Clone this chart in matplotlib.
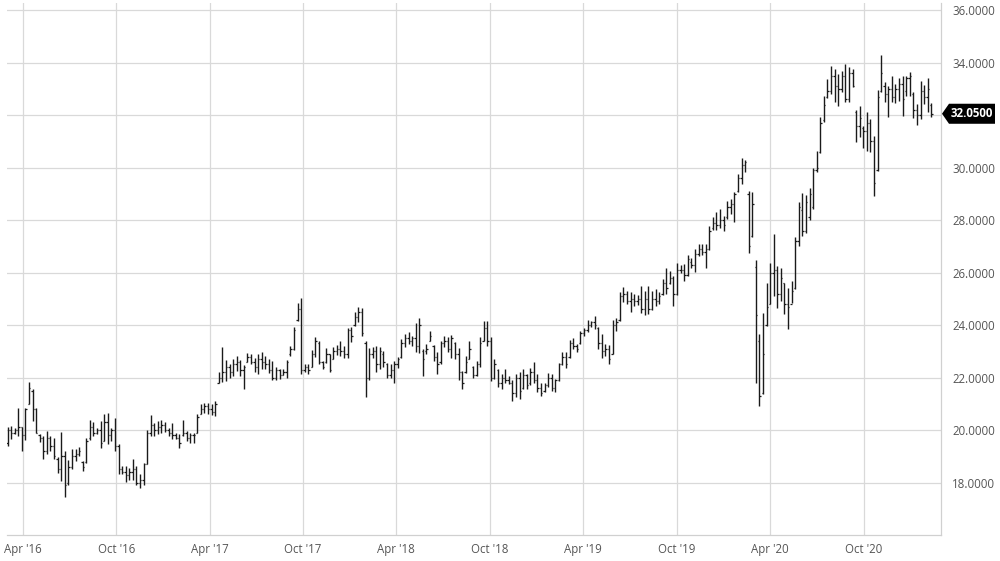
import numpy as np
import pandas as pd
import matplotlib
matplotlib.use("Agg")
import matplotlib.pyplot as plt
import matplotlib.dates as mdates
import matplotlib.transforms as mtransforms
from matplotlib.patches import Polygon

plt.rcParams['font.family'] = ['Open Sans', 'DejaVu Sans']

# weekly OHLC, one bar per week from early March 2016
start_date = "2016-03-02"

highs = [
    20.13, 20.15, 20.09, 20.82, 20.13, 20.85, 21.83, 21.55, 20.85, 19.83,
    19.77, 19.96, 19.77, 19.71, 18.98, 19.92, 19.20, 18.85, 19.26, 19.26,
    19.36, 18.82, 19.71, 20.38, 20.30, 20.09, 20.34, 20.60, 20.64, 20.09,
    20.47, 19.45, 18.62, 18.62, 18.56, 18.88, 18.62, 18.31, 18.75, 20.00,
    20.56, 20.28, 20.34, 20.38, 20.31, 20.09, 20.28, 19.90, 19.83, 20.38,
    19.96, 19.90, 19.87, 20.60, 20.98, 21.02, 21.04, 20.98, 21.11, 22.22,
    23.18, 22.68, 22.51, 22.70, 22.83, 22.68, 22.47, 22.93, 22.89, 22.76,
    22.89, 22.98, 22.83, 22.70, 22.64, 22.42, 22.34, 22.32, 22.68, 23.21,
    23.91, 24.84, 25.02, 22.51, 22.51, 23.06, 23.53, 23.40, 22.64, 23.11,
    22.89, 23.15, 23.24, 23.40, 23.21, 23.87, 23.91, 24.51, 24.68, 24.64,
    23.40, 23.11, 23.15, 23.21, 23.18, 23.02, 22.57, 22.51, 22.64, 22.80,
    23.46, 23.66, 23.75, 23.57, 24.08, 24.25, 23.08, 23.27, 23.78, 23.24,
    22.96, 23.40, 23.59, 23.53, 23.62, 23.34, 23.11, 22.25, 22.83, 23.40,
    22.45, 22.64, 23.53, 24.17, 24.17, 23.53, 22.70, 22.32, 22.13, 22.34,
    22.06, 21.91, 22.13, 22.22, 22.32, 22.13, 22.38, 22.60, 22.13, 21.81,
    21.78, 22.19, 22.13, 21.94, 22.55, 22.96, 22.98, 23.44, 23.49, 23.27,
    23.78, 23.87, 24.20, 24.17, 24.36, 23.91, 23.66, 23.27, 23.24, 24.20,
    24.25, 25.25, 25.44, 25.31, 25.25, 25.18, 25.15, 25.47, 25.30, 25.49,
    25.30, 25.39, 25.24, 25.75, 26.19, 26.06, 25.87, 26.36, 26.28, 26.32,
    26.66, 26.57, 26.89, 27.08, 27.08, 27.08, 27.76, 28.10, 28.32, 28.44,
    28.16, 28.74, 28.80, 29.08, 29.75, 30.35, 30.30, 29.12, 29.05, 26.48,
    23.65, 24.47, 25.62, 26.36, 27.46, 26.25, 26.19, 25.62, 25.43, 25.68,
    27.34, 28.67, 29.02, 28.94, 29.24, 30.00, 30.64, 31.91, 32.71, 33.38,
    33.86, 33.76, 33.57, 33.69, 33.95, 33.82, 33.76, 32.20, 32.36, 31.59,
    32.10, 31.85, 31.21, 32.97, 34.29, 33.27, 33.10, 33.48, 33.18, 33.40,
    33.50, 33.50, 33.66, 32.89, 32.42, 33.31, 33.15, 33.40, 32.46,
]

lows = [
    19.41, 19.64, 19.83, 19.77, 19.20, 19.62, 20.98, 20.34, 19.87, 19.54,
    18.90, 19.07, 19.20, 18.88, 18.37, 18.05, 17.45, 17.92, 18.50, 18.82,
    19.00, 18.43, 18.75, 19.62, 19.77, 19.83, 19.32, 19.58, 19.45, 19.58,
    19.20, 18.31, 18.31, 18.01, 18.11, 18.11, 17.92, 17.80, 17.92, 18.69,
    19.77, 19.77, 19.83, 19.87, 19.92, 19.77, 19.67, 19.64, 19.32, 19.77,
    19.58, 19.52, 19.52, 19.87, 20.60, 20.64, 20.60, 20.56, 20.53, 21.78,
    21.83, 21.87, 22.00, 22.06, 22.25, 22.04, 21.58, 22.60, 22.51, 22.22,
    22.13, 22.34, 22.32, 22.19, 21.91, 21.91, 21.96, 22.09, 22.00, 22.83,
    23.06, 24.17, 22.13, 22.22, 22.13, 22.40, 22.80, 22.51, 22.32, 22.55,
    22.22, 22.70, 22.85, 22.83, 22.76, 22.76, 23.36, 23.95, 24.13, 23.57,
    21.24, 21.91, 22.76, 22.22, 22.34, 22.42, 22.00, 22.00, 21.78, 22.38,
    22.76, 23.15, 23.27, 23.21, 22.96, 22.93, 22.04, 22.89, 23.40, 22.64,
    22.13, 22.51, 23.18, 22.96, 22.76, 22.70, 21.91, 21.55, 22.19, 22.70,
    22.00, 22.06, 22.42, 23.40, 23.21, 21.87, 21.94, 21.62, 21.55, 21.81,
    21.75, 21.11, 21.24, 21.20, 21.55, 21.55, 21.71, 21.81, 21.45, 21.30,
    21.45, 21.62, 21.49, 21.45, 21.87, 22.47, 22.38, 22.76, 23.08, 22.96,
    23.27, 23.59, 23.72, 23.91, 23.85, 23.08, 22.73, 22.83, 22.51, 22.89,
    23.78, 24.17, 24.87, 24.80, 24.48, 24.74, 24.76, 24.47, 24.37, 24.41,
    24.58, 24.73, 24.79, 25.14, 25.17, 25.55, 24.73, 25.14, 25.97, 25.68,
    25.85, 26.19, 26.03, 26.64, 26.66, 26.19, 26.87, 27.63, 27.63, 27.68,
    27.59, 28.04, 28.23, 27.93, 29.08, 29.37, 29.82, 26.74, 27.37, 21.80,
    20.91, 21.36, 23.96, 24.79, 25.11, 24.63, 24.92, 24.41, 23.84, 24.83,
    25.36, 27.02, 27.41, 27.52, 28.00, 28.43, 29.83, 30.57, 31.75, 32.64,
    32.80, 32.48, 32.33, 32.87, 32.51, 32.51, 33.06, 30.96, 31.15, 30.76,
    30.64, 30.60, 28.92, 29.87, 32.87, 32.51, 31.91, 32.48, 32.46, 32.55,
    31.97, 32.74, 32.71, 31.87, 31.62, 31.85, 32.42, 32.10, 31.91,
]

opens = [
    19.5, 20.0, 19.9, 20.0, 20.1, 19.8, 21.0, 21.5, 20.8, 19.8,
    19.7, 19.2, 19.7, 19.4, 18.9, 18.5, 19.0, 18.0, 18.6, 19.0,
    19.1, 18.8, 18.8, 19.7, 20.1, 19.9, 20.0, 19.6, 20.3, 19.8,
    20.0, 19.4, 18.5, 18.4, 18.3, 18.4, 18.5, 18.0, 18.1, 18.7,
    19.9, 20.2, 20.0, 20.1, 20.2, 20.0, 19.9, 19.8, 19.7, 19.8,
    19.9, 19.7, 19.8, 19.9, 20.6, 20.8, 20.9, 20.8, 20.7, 21.8,
    22.0, 22.2, 22.4, 22.2, 22.5, 22.6, 22.3, 22.6, 22.8, 22.6,
    22.4, 22.7, 22.6, 22.5, 22.3, 22.0, 22.3, 22.1, 22.2, 22.9,
    23.1, 24.2, 24.6, 22.3, 22.4, 22.4, 22.9, 23.3, 22.6, 22.6,
    22.9, 22.7, 23.0, 23.1, 23.0, 22.9, 23.8, 24.0, 24.3, 24.5,
    23.3, 22.0, 22.9, 23.0, 22.5, 22.9, 22.5, 22.1, 22.3, 22.5,
    22.8, 23.3, 23.5, 23.4, 23.5, 23.2, 23.0, 23.0, 23.4, 23.2,
    22.8, 22.6, 23.3, 23.4, 23.1, 23.3, 22.9, 22.2, 22.2, 22.7,
    22.4, 22.1, 22.5, 23.4, 23.9, 23.4, 22.0, 22.3, 21.8, 22.0,
    21.9, 21.8, 21.4, 22.0, 21.6, 22.1, 21.8, 22.2, 21.9, 21.6,
    21.5, 21.7, 22.0, 21.6, 21.9, 22.5, 22.8, 22.8, 23.3, 23.2,
    23.3, 23.7, 23.8, 24.0, 24.1, 23.9, 23.3, 23.0, 23.1, 22.9,
    24.0, 24.2, 25.1, 25.2, 24.9, 25.0, 24.9, 25.0, 24.6, 25.0,
    24.6, 25.0, 24.9, 25.2, 25.6, 25.6, 25.8, 25.2, 26.1, 26.1,
    25.9, 26.4, 26.3, 26.7, 26.9, 26.8, 26.9, 27.7, 27.9, 27.8,
    28.0, 28.1, 28.5, 28.6, 29.1, 29.6, 30.1, 29.0, 27.4, 26.2,
    23.4, 21.4, 24.0, 24.8, 26.0, 26.1, 25.2, 25.6, 24.8, 24.8,
    25.4, 27.2, 28.4, 27.6, 28.1, 28.5, 29.9, 30.6, 31.8, 32.7,
    32.9, 33.5, 33.1, 33.0, 33.5, 32.6, 33.6, 32.1, 31.6, 31.5,
    31.4, 31.7, 31.0, 29.9, 32.9, 33.1, 32.8, 33.0, 32.7, 33.0,
    33.2, 32.9, 33.4, 32.8, 32.2, 32.0, 32.9, 32.7, 32.4,
]

closes = [
    20.0, 19.9, 20.0, 20.1, 19.8, 20.8, 21.6, 20.8, 19.9, 19.7,
    19.2, 19.7, 19.4, 19.0, 18.5, 19.0, 17.9, 18.6, 19.0, 19.1,
    19.2, 18.6, 19.6, 20.1, 19.9, 20.0, 19.5, 20.3, 19.8, 20.0,
    19.4, 18.5, 18.4, 18.3, 18.4, 18.5, 18.0, 18.1, 18.7, 19.9,
    20.2, 20.0, 20.1, 20.2, 20.0, 19.9, 19.8, 19.7, 19.5, 19.9,
    19.7, 19.8, 19.8, 20.5, 20.8, 20.9, 20.8, 20.7, 21.0, 22.0,
    22.2, 22.4, 22.2, 22.5, 22.6, 22.3, 22.4, 22.8, 22.6, 22.4,
    22.7, 22.6, 22.5, 22.3, 22.0, 22.3, 22.1, 22.2, 22.6, 23.1,
    23.8, 24.6, 22.3, 22.4, 22.3, 22.9, 23.4, 22.6, 22.4, 22.9,
    22.3, 23.0, 23.1, 23.0, 22.9, 23.8, 23.6, 24.3, 24.5, 23.7,
    22.0, 22.9, 23.0, 22.5, 23.0, 22.6, 22.1, 22.3, 22.5, 22.7,
    23.3, 23.5, 23.4, 23.5, 23.2, 24.0, 22.7, 23.1, 23.6, 22.8,
    22.5, 23.3, 23.4, 23.1, 23.5, 22.9, 22.2, 21.8, 22.6, 23.1,
    22.1, 22.5, 23.3, 23.9, 23.4, 22.0, 22.5, 21.8, 22.0, 21.9,
    21.8, 21.4, 22.0, 21.5, 22.1, 21.7, 22.2, 21.9, 21.6, 21.4,
    21.7, 22.0, 21.6, 21.9, 22.5, 22.8, 22.5, 23.3, 23.2, 23.1,
    23.7, 23.8, 24.0, 24.1, 24.0, 23.3, 23.0, 23.1, 22.7, 24.0,
    24.1, 25.1, 25.2, 24.9, 25.0, 24.9, 25.0, 24.6, 25.0, 24.6,
    25.0, 24.9, 25.1, 25.6, 25.4, 25.8, 25.2, 26.1, 26.1, 25.9,
    26.5, 26.3, 26.7, 26.9, 26.8, 26.9, 27.6, 27.9, 27.8, 28.0,
    27.8, 28.5, 28.6, 29.0, 29.6, 30.1, 30.2, 27.0, 28.6, 24.4,
    21.3, 22.9, 24.7, 26.0, 26.1, 25.2, 25.8, 24.8, 24.7, 25.3,
    27.2, 28.5, 27.6, 28.7, 29.0, 29.9, 30.0, 31.7, 32.4, 32.9,
    33.5, 33.1, 33.0, 33.5, 32.6, 33.6, 33.1, 31.6, 31.9, 31.4,
    31.7, 31.0, 29.4, 32.7, 33.6, 32.8, 33.0, 32.7, 33.0, 33.2,
    32.6, 33.4, 33.5, 32.2, 32.0, 32.9, 32.7, 33.0, 32.05,
]

tick_dates = ["2016-04-01", "2016-10-01", "2017-04-01", "2017-10-01", "2018-04-01",
              "2018-10-01", "2019-04-01", "2019-10-01", "2020-04-01", "2020-10-01"]
tick_labels = ["Apr '16", "Oct '16", "Apr '17", "Oct '17", "Apr '18",
               "Oct '18", "Apr '19", "Oct '19", "Apr '20", "Oct '20"]
y_ticks = [18, 20, 22, 24, 26, 28, 30, 32, 34, 36]
last_price = closes[-1]

dates = mdates.date2num(pd.date_range(start_date, periods=len(highs), freq="7D"))

fig = plt.figure(figsize=(10, 5.61), dpi=100)
ax = fig.add_axes([0.007, 1 - 535 / 561, 0.934, 532 / 561])

bar_color = "#1a1a1a"
tick_len = 2.6  # days
ax.vlines(dates, lows, highs, color=bar_color, lw=1.0, zorder=3)
ax.hlines(opens, dates - tick_len, dates, color=bar_color, lw=0.9, zorder=3)
ax.hlines(closes, dates, dates + tick_len, color=bar_color, lw=0.9, zorder=3)

ax.set_xlim(mdates.datestr2num("2016-03-01"), mdates.datestr2num("2021-03-01"))
ax.set_ylim(16.0, 36.27)

ax.set_xticks(mdates.datestr2num(tick_dates))
ax.set_xticklabels(tick_labels)
ax.set_yticks(y_ticks)
# the 32 label sits behind the last-price tag, so it is left blank
ax.set_yticklabels(["" if abs(v - last_price) < 0.5 else f"{v:.4f}" for v in y_ticks])
ax.yaxis.tick_right()
ax.tick_params(axis="both", length=0, labelsize=8.3, colors="#555555")
ax.tick_params(axis="y", pad=8)
ax.tick_params(axis="x", pad=6)

ax.grid(True, color="#d9d9d9", lw=0.9)
ax.set_axisbelow(True)
for side in ["top", "left"]:
    ax.spines[side].set_visible(False)
for side in ["right", "bottom"]:
    ax.spines[side].set_color("#d0d0d0")
    ax.spines[side].set_linewidth(0.9)

# last price tag on the right axis
trans = mtransforms.blended_transform_factory(ax.transAxes, ax.transData)
w = 1.0 / 934  # one pixel in axes fraction
h = 10 / 26.2  # half tag height in data units
tag = Polygon([[1.0 + 1 * w, last_price], [1.0 + 8 * w, last_price + h],
               [1.0 + 54 * w, last_price + h], [1.0 + 54 * w, last_price - h],
               [1.0 + 8 * w, last_price - h]],
              closed=True, transform=trans, clip_on=False, facecolor="black",
              edgecolor="none", zorder=5)
ax.add_patch(tag)
ax.text(1.0 + 31 * w, last_price, f"{last_price:.4f}", transform=trans,
        ha="center", va="center", color="white", fontsize=8.3,
        fontweight="bold", zorder=6, clip_on=False)

fig.savefig("out.png", dpi=100)
